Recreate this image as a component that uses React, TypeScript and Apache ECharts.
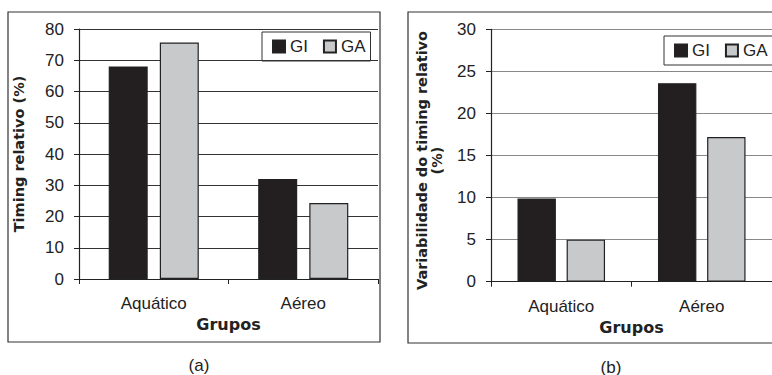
import React, { useEffect, useRef } from 'react';
import * as echarts from 'echarts';

const categories = ['Aquático', 'Aéreo'];
const seriesNames = ['GI', 'GA'];
const timingGI = [68, 32];
const timingGA = [75.7, 24.3];
const variabGI = [9.9, 23.6];
const variabGA = [5.0, 17.2];
const panelLabels = ['(a)', '(b)'];
const xTitle = 'Grupos';
const yTitleA = 'Timing relativo (%)';
const yTitleB = 'Variabilidade do timing relativo\n(%)';

const FONT = '"Liberation Sans", Arial, sans-serif';
const WIDE = '"DejaVu Sans", sans-serif';
const DARK = '#231f20';
const GRAY = '#c8c9cb';

export default function App() {
  const ref = useRef<HTMLDivElement>(null);
  useEffect(() => {
    if (!ref.current) return;
    const chart = echarts.init(ref.current, undefined, { renderer: 'svg' });

    const mkX = (gi: number, nameGap: number) => ({
      type: 'category',
      gridIndex: gi,
      data: categories,
      axisLine: { show: true, lineStyle: { color: '#222', width: 1.2 } },
      axisTick: { show: true, length: 5, alignWithLabel: false, lineStyle: { color: '#222' } },
      axisLabel: { fontSize: 17, color: '#222', margin: 16, fontFamily: FONT },
      name: xTitle,
      nameLocation: 'middle',
      nameGap,
      nameTextStyle: { fontWeight: 'bold', fontSize: 16, color: '#222', fontFamily: WIDE },
    });

    const mkY = (gi: number, max: number, interval: number, name: string, nameGap: number, gridColor: string, lh: number, pad: number[]) => ({
      type: 'value',
      gridIndex: gi,
      min: 0,
      max,
      interval,
      axisLine: { show: true, lineStyle: { color: '#222', width: 1.2 } },
      axisTick: { show: true, length: 5, lineStyle: { color: '#222' } },
      axisLabel: { fontSize: 17, color: '#222', margin: 15, fontFamily: FONT },
      splitLine: { show: true, lineStyle: { color: gridColor, width: 1.2 } },
      name,
      nameLocation: 'middle',
      nameRotate: 90,
      nameGap,
      nameTextStyle: { fontWeight: 'bold', fontSize: 14.5, color: '#222', fontFamily: WIDE, lineHeight: lh, padding: pad },
    });

    const mkLegend = (left: number, top: number) => ({
      left,
      top,
      width: 140,
      orient: 'horizontal',
      data: seriesNames,
      icon: 'rect',
      itemWidth: 12,
      itemHeight: 12,
      itemGap: 15,
      padding: [6, 5, 6, 10],
      borderColor: '#333',
      borderWidth: 1,
      textStyle: { fontSize: 17, color: '#222', fontFamily: FONT, lineHeight: 15 },
    });

    const barStyle = (color: string) => ({ color, borderColor: '#222', borderWidth: 1.2 });

    chart.setOption({
      animation: false,
      backgroundColor: '#fff',
      textStyle: { fontFamily: FONT },
      grid: [
        { left: 79, top: 29, width: 299, height: 250 },
        { left: 491, top: 29.3, width: 288, height: 252.4 },
      ],
      xAxis: [mkX(0, 35), mkX(1, 34)],
      yAxis: [
        mkY(0, 80, 10, yTitleA, 53, '#333', 14, [0, 0, 0, 0]),
        mkY(1, 30, 5, yTitleB, 47, '#888', 15, [0, 10, 0, 0]),
      ],
      legend: [mkLegend(262, 32), mkLegend(664, 36)],
      series: [
        { type: 'bar', name: seriesNames[0], xAxisIndex: 0, yAxisIndex: 0, data: timingGI, barWidth: 39, barGap: '31%', itemStyle: barStyle(DARK) },
        { type: 'bar', name: seriesNames[1], xAxisIndex: 0, yAxisIndex: 0, data: timingGA, barWidth: 39, barGap: '31%', itemStyle: barStyle(GRAY) },
        { type: 'bar', name: seriesNames[0], xAxisIndex: 1, yAxisIndex: 1, data: variabGI, barWidth: 38.4, barGap: '28%', itemStyle: barStyle(DARK) },
        { type: 'bar', name: seriesNames[1], xAxisIndex: 1, yAxisIndex: 1, data: variabGA, barWidth: 38.4, barGap: '28%', itemStyle: barStyle(GRAY) },
      ],
      graphic: [
        { type: 'rect', shape: { x: 8, y: 12, width: 372, height: 330 }, style: { fill: 'none', stroke: '#333', lineWidth: 1.2 }, silent: true },
        { type: 'rect', shape: { x: 408, y: 12, width: 400, height: 331 }, style: { fill: 'none', stroke: '#333', lineWidth: 1.2 }, silent: true },
        { type: 'text', x: 199, y: 365, style: { text: panelLabels[0], fontSize: 17, fontFamily: FONT, fill: '#222', align: 'center', verticalAlign: 'middle' } },
        { type: 'text', x: 611, y: 367, style: { text: panelLabels[1], fontSize: 17, fontFamily: FONT, fill: '#222', align: 'center', verticalAlign: 'middle' } },
      ],
    });
    return () => chart.dispose();
  }, []);
  return (
    <div
      ref={ref}
      style={{ position: 'absolute', left: 0, top: 0, width: 772, height: 375, overflow: 'hidden' }}
    />
  );
}
